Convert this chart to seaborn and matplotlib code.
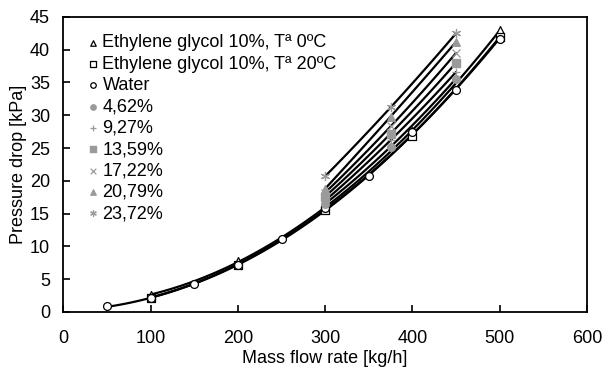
import numpy as np
import pandas as pd
import seaborn as sns
import matplotlib.pyplot as plt

# base fluids
water_x = [50, 100, 150, 200, 250, 300, 350, 400, 450, 500]
water_y = [0.9, 2.1, 4.2, 7.2, 11.1, 15.8, 20.7, 27.4, 33.9, 41.7]
eg0_x = [100, 200, 300, 400, 500]
eg0_y = [2.6, 7.7, 16.0, 27.6, 43.0]
eg20_x = [100, 200, 300, 400, 500]
eg20_y = [2.2, 7.2, 15.6, 26.9, 42.0]

# nanofluids
nano_x = [300, 375, 450]
nano_labels = ['4,62%', '9,27%', '13,59%', '17,22%', '20,79%', '23,72%']
nano_y = [
    [16.5, 25.2, 35.6],
    [17.0, 26.2, 36.6],
    [17.6, 27.2, 38.0],
    [18.2, 28.3, 39.5],
    [18.8, 29.8, 41.2],
    [20.7, 31.2, 42.5],
]
nano_markers = ['o', '+', 's', 'x', '^', (6, 2, 0)]

sns.set_theme(style='ticks')
plt.rcParams['font.family'] = ['Liberation Sans', 'DejaVu Sans']
plt.rcParams['text.color'] = 'black'
plt.rcParams['axes.labelcolor'] = 'black'
plt.rcParams['xtick.color'] = 'black'
plt.rcParams['ytick.color'] = 'black'

fig, ax = plt.subplots(figsize=(6.03, 3.67), dpi=100)

line_kws = dict(color='black', lw=1.6)
gray = '#9a9a9a'

# trend lines
for xs, ys in [(water_x, water_y), (eg0_x, eg0_y), (eg20_x, eg20_y)]:
    sns.regplot(x=xs, y=ys, order=2, ci=None, scatter=False, line_kws=line_kws, ax=ax)
for ys in nano_y:
    sns.regplot(x=nano_x, y=ys, order=2, ci=None, scatter=False, line_kws=line_kws, ax=ax)

# markers
ax.scatter(eg0_x, eg0_y, marker='^', s=32, facecolor='white', edgecolor='black', lw=0.9,
           label='Ethylene glycol 10%, Tª 0ºC', zorder=3)
ax.scatter(eg20_x, eg20_y, marker='s', s=32, facecolor='white', edgecolor='black', lw=0.9,
           label='Ethylene glycol 10%, Tª 20ºC', zorder=3)
ax.scatter(water_x, water_y, marker='o', s=32, facecolor='white', edgecolor='black', lw=0.9,
           label='Water', zorder=3)
for lab, ys, m in zip(nano_labels, nano_y, nano_markers):
    if m in ['+', 'x', (6, 2, 0)]:
        ax.scatter(nano_x, ys, marker=m, s=34, color=gray, lw=0.9, label=lab, zorder=3)
    else:
        ax.scatter(nano_x, ys, marker=m, s=30, color=gray, edgecolor=gray, label=lab, zorder=3)

ax.set_xlim(0, 600)
ax.set_ylim(0, 45)
ax.set_xticks(range(0, 601, 100))
ax.set_yticks(range(0, 46, 5))
ax.set_xlabel('Mass flow rate [kg/h]', fontsize=13, labelpad=2)
ax.set_ylabel('Pressure drop [kPa]', fontsize=13, labelpad=2)
ax.tick_params(labelsize=13, length=5, width=1.2, color='black', direction='in')
ax.tick_params(axis='x', pad=13)
ax.tick_params(axis='y', pad=9.5)
for s in ax.spines.values():
    s.set_visible(True)
    s.set_color('black')
    s.set_linewidth(1.3)

ax.legend(loc='upper left', bbox_to_anchor=(0.03, 0.965), frameon=False, fontsize=13,
          handletextpad=0.1, handlelength=0.8, labelspacing=0.24, borderaxespad=0,
          markerscale=0.7)

plt.subplots_adjust(left=0.105, right=0.9735, top=0.954, bottom=0.15)
plt.savefig('out.png', dpi=100)
